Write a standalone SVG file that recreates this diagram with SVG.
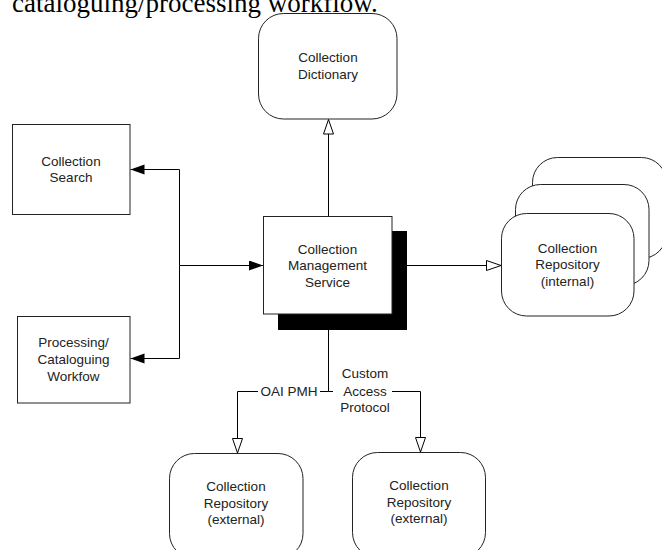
<svg xmlns="http://www.w3.org/2000/svg" width="662" height="550" viewBox="0 0 662 550">
<style>
.box{fill:#fff;stroke:#222;stroke-width:1}
.shadow{fill:#000;stroke:none}
.lbl{font-family:"Liberation Sans",Arial,sans-serif;font-size:13.5px;fill:#222;text-anchor:middle}
.conn{fill:none;stroke:#000;stroke-width:1}
.head{font-family:"Liberation Serif","Times New Roman",serif;font-size:27px;fill:#000}
</style>
<defs>
<marker id="filled" markerUnits="userSpaceOnUse" markerWidth="16" markerHeight="12" refX="14" refY="5" orient="auto">
<path d="M0,0 L14,5 L0,10 z" fill="#000"/>
</marker>
<marker id="hollow" markerUnits="userSpaceOnUse" markerWidth="17" markerHeight="12" refX="15" refY="5.5" orient="auto">
<path d="M0.5,0.5 L15,5.5 L0.5,10.5 z" fill="#fff" stroke="#000" stroke-width="1"/>
</marker>
</defs>
<rect width="662" height="550" fill="#fff"/>
<text class="head" x="12" y="11.5">cataloguing/processing workflow.</text>

<g id="connectors">
<path class="conn" d="M328.5,216 V119.5" marker-end="url(#hollow)"/>
<path class="conn" d="M179.5,265.5 H263" marker-end="url(#filled)"/>
<path class="conn" d="M179.5,265.5 V169.5 H130.5" marker-end="url(#filled)"/>
<path class="conn" d="M179.5,265.5 V358.5 H130.5" marker-end="url(#filled)"/>
<path class="conn" d="M407,265.5 H501" marker-end="url(#hollow)"/>
<path class="conn" d="M328.5,314 V391.5"/>
<path class="conn" d="M328.5,391.5 H320 M258,391.5 H237.5 V453" marker-end="url(#hollow)"/>
<path class="conn" d="M328.5,391.5 H333 M392,391.5 H420.5 V452" marker-end="url(#hollow)"/>
</g>

<g id="label-oai">
<text class="lbl" x="289" y="395.5">OAI PMH</text>
</g>
<g id="label-custom">
<text class="lbl" x="365" y="378">Custom</text>
<text class="lbl" x="365" y="395.5">Access</text>
<text class="lbl" x="365" y="412">Protocol</text>
</g>

<g id="dictionary">
<rect class="box" x="258.5" y="13.5" width="138.5" height="105.5" rx="25" ry="25"/>
<text class="lbl" x="328" y="62">Collection</text>
<text class="lbl" x="328" y="78.5">Dictionary</text>
</g>

<g id="search">
<rect class="box" x="12.5" y="124.5" width="117.5" height="90"/>
<text class="lbl" x="71" y="165.5">Collection</text>
<text class="lbl" x="71" y="181.5">Search</text>
</g>

<g id="processing">
<rect class="box" x="17.5" y="316.5" width="112.5" height="86.5"/>
<text class="lbl" x="73.5" y="347">Processing/</text>
<text class="lbl" x="73.5" y="363.5">Cataloguing</text>
<text class="lbl" x="73.5" y="380.5">Workfow</text>
</g>

<g id="management">
<rect class="shadow" x="278" y="231" width="129" height="99"/>
<rect class="box" x="263.5" y="216.5" width="128.5" height="97.5"/>
<text class="lbl" x="327.5" y="253.5">Collection</text>
<text class="lbl" x="327.5" y="270">Management</text>
<text class="lbl" x="327.5" y="286.5">Service</text>
</g>

<g id="repo-internal">
<rect class="box" x="532.5" y="157.5" width="134" height="101" rx="25" ry="25"/>
<rect class="box" x="515.5" y="184.5" width="133.5" height="101" rx="25" ry="25"/>
<rect class="box" x="501.5" y="213.5" width="132.5" height="102.5" rx="25" ry="25"/>
<text class="lbl" x="567.5" y="252.5">Collection</text>
<text class="lbl" x="567.5" y="269">Repository</text>
<text class="lbl" x="567.5" y="285.5">(internal)</text>
</g>

<g id="repo-external-1">
<rect class="box" x="169.5" y="453.5" width="133.5" height="105" rx="25" ry="25"/>
<text class="lbl" x="236" y="491">Collection</text>
<text class="lbl" x="236" y="507.5">Repository</text>
<text class="lbl" x="236" y="524">(external)</text>
</g>

<g id="repo-external-2">
<rect class="box" x="352.5" y="452.5" width="133" height="105" rx="25" ry="25"/>
<text class="lbl" x="419" y="490">Collection</text>
<text class="lbl" x="419" y="506.5">Repository</text>
<text class="lbl" x="419" y="523">(external)</text>
</g>
</svg>
